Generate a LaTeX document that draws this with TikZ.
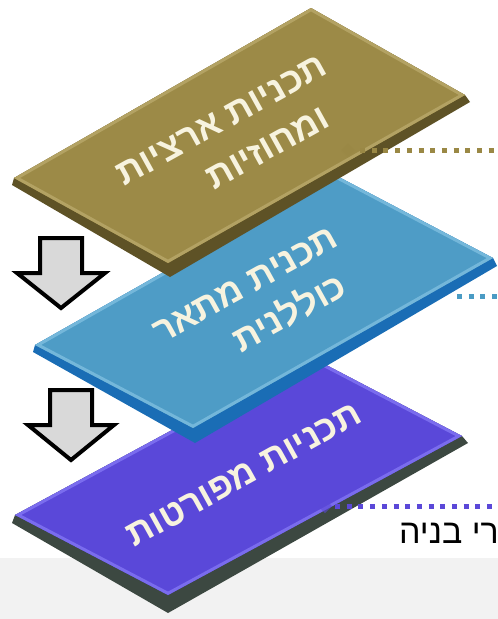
\documentclass[tikz,border=0pt]{standalone}
\usepackage{fontspec}
\newfontfamily\heb[Script=Hebrew]{Liberation Sans}
\TeXXeTstate=1
\definecolor{goldface}{HTML}{9C8A47}
\definecolor{goldrim}{HTML}{B3A263}
\definecolor{goldside}{HTML}{5E5226}
\definecolor{goldline}{HTML}{9A8845}
\definecolor{blueface}{HTML}{4E9CC6}
\definecolor{bluerim}{HTML}{74B7DA}
\definecolor{blueside}{HTML}{1A6DB5}
\definecolor{blueline}{HTML}{4A9BC4}
\definecolor{purpface}{HTML}{5A48D9}
\definecolor{purprim}{HTML}{7A6CEE}
\definecolor{purpside}{HTML}{3C4841}
\definecolor{purpline}{HTML}{5B48D8}
\definecolor{bandgray}{HTML}{F2F2F2}
\definecolor{arrowgray}{HTML}{D9D9D9}
\definecolor{textcream}{HTML}{F7F3DF}
\begin{document}
\begin{tikzpicture}[x=1pt,y=-1pt,
  platetext/.style={text=textcream, font=\heb\bfseries\fontsize{36}{47}\selectfont, rotate=29, inner sep=0pt, align=center},
  blockarrow/.style={draw=black, line width=4pt, fill=arrowgray, line join=miter},
  dotline/.style={line width=5pt, dash pattern=on 5pt off 6.7pt},
  rim/.style={line width=6pt}
]
\useasboundingbox (0,0) rectangle (498,619);
\fill[bandgray] (0,558) rectangle (498,619);

% ---------- purple plate ----------
\fill[purpside] (309,356) -- (462,436) -- (468,443) -- (168,613) -- (12,523) -- (15,515) -- cycle;
\fill[purpface] (15,515) -- (168,595) -- (462,436) -- (309,356) -- cycle;
\begin{scope}
\clip (15,515) -- (168,595) -- (462,436) -- (309,356) -- cycle;
\draw[purprim, rim] (15,515) -- (168,595) -- (462,436) -- (309,356) -- cycle;
\end{scope}
\fill[purpline, opacity=.6] (325,499) -- (332,506) -- (325,513) -- (318,506) -- cycle;
\coordinate (pd1) at (335,506);
\coordinate (pd2) at (498,506);
\draw[dotline, purpline] (pd1) -- (pd2);
\node[platetext] (t3) at (244,475) {\beginR תכניות מפורטות\endR};

% ---------- blue plate ----------
\fill[blueside] (335,175) -- (493,258) -- (497,266) -- (195,443) -- (33,352) -- (35,345) -- cycle;
\fill[blueface] (35,345) -- (193,428) -- (493,258) -- (335,175) -- cycle;
\begin{scope}
\clip (35,345) -- (193,428) -- (493,258) -- (335,175) -- cycle;
\draw[bluerim, rim] (35,345) -- (193,428) -- (493,258) -- (335,175) -- cycle;
\end{scope}
\coordinate (bd1) at (457,296);
\coordinate (bd2) at (498,296);
\draw[dotline, blueline] (bd1) -- (bd2);
\node[platetext] (t2) at (257,306) {\beginR תכנית מתאר\endR\\\hspace*{50pt}\beginR כוללנית\endR};

% ---------- gold plate ----------
\fill[goldside] (311,8) -- (465,95) -- (470,102) -- (170,277) -- (12,185) -- (14,178) -- cycle;
\fill[goldface] (14,178) -- (168,263) -- (465,95) -- (311,8) -- cycle;
\begin{scope}
\clip (14,178) -- (168,263) -- (465,95) -- (311,8) -- cycle;
\draw[goldrim, rim] (14,178) -- (168,263) -- (465,95) -- (311,8) -- cycle;
\end{scope}
\fill[goldline, opacity=.5] (348,143) -- (355,150) -- (348,157) -- (341,150) -- cycle;
\coordinate (gd1) at (360,150);
\coordinate (gd2) at (498,150);
\draw[dotline, goldline] (gd1) -- (gd2);
\node[platetext] (t1) at (233,141) {\beginR תכניות ארציות\endR\\\hspace*{54pt}\beginR ומחוזיות\endR};

% ---------- arrows ----------
\draw[blockarrow] (40,238) -- (82,238) -- (82,273) -- (105,273) -- (61,308) -- (17,273) -- (40,273) -- cycle;
\draw[blockarrow] (50,390) -- (92,390) -- (92,425) -- (114,425) -- (71,460) -- (28,425) -- (50,425) -- cycle;

% ---------- caption ----------
\node[anchor=base east, inner sep=0pt, font=\heb\fontsize{34}{40}\selectfont] (cap) at (499,543) {\beginR רי בניה\endR};
\end{tikzpicture}
\end{document}
